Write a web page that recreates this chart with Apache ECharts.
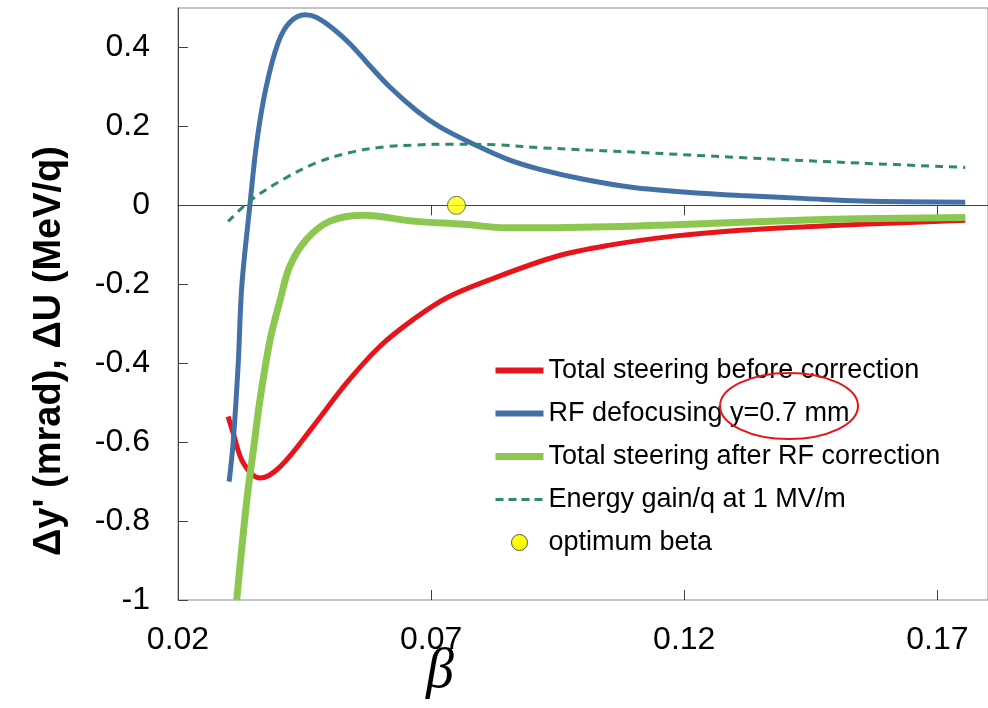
<!DOCTYPE html>
<html>
<head>
<meta charset="utf-8">
<script src="https://cdn.jsdelivr.net/npm/echarts@6/dist/echarts.min.js"></script>
<style>
html,body{margin:0;padding:0;background:#fff;}
#c{width:988px;height:708px;}
</style>
</head>
<body>
<div id="c"></div>
<script>
// ---- data ----
const xTicks = [0.02, 0.07, 0.12, 0.17];

const betaRed = [0.0299,0.0309,0.0329,0.0362,0.0402,0.0467,0.0533,0.0599,0.0665,0.0731,0.0817,0.0948,0.1047,0.1179,0.1311,0.1442,0.1548,0.1755];
const totalBefore = [-0.535,-0.577,-0.653,-0.691,-0.662,-0.560,-0.450,-0.357,-0.289,-0.234,-0.188,-0.129,-0.102,-0.078,-0.063,-0.054,-0.048,-0.038];

const betaBlue = [0.0301,0.0309,0.0319,0.0326,0.0342,0.03555,0.0374,0.0398,0.0421,0.0451,0.0474,0.0507,0.054,0.0573,0.0619,0.0672,0.0718,0.0784,0.085,0.0915,0.1001,0.110,0.1199,0.1311,0.1442,0.1548,0.1755];
const rfDefocus = [-0.70,-0.60,-0.40,-0.205,0.0,0.159,0.299,0.413,0.464,0.483,0.476,0.447,0.409,0.362,0.299,0.239,0.198,0.155,0.117,0.091,0.066,0.045,0.034,0.025,0.017,0.011,0.008];

const betaGreen = [0.0316,0.0336,0.0349,0.0362,0.0382,0.0402,0.0421,0.0454,0.050,0.0566,0.0665,0.0764,0.085,0.1047,0.1245,0.1442,0.1548,0.1755];
const totalAfter = [-1.0,-0.746,-0.619,-0.492,-0.340,-0.239,-0.154,-0.086,-0.040,-0.025,-0.040,-0.048,-0.057,-0.054,-0.046,-0.037,-0.034,-0.031];

const betaGain = [0.0299,0.0342,0.0408,0.0474,0.054,0.0606,0.0672,0.0738,0.0832,0.0915,0.1113,0.1311,0.1548,0.1755];
const energyGain = [-0.041,0.011,0.066,0.108,0.134,0.148,0.153,0.155,0.153,0.146,0.134,0.121,0.107,0.096];

const optBeta = [0.075];
const optValue = [0];

const names = ['Total steering before correction','RF defocusing y=0.7 mm','Total steering after RF correction','Energy gain/q at 1 MV/m','optimum beta'];

function pairs(xs, ys){ return xs.map((x,i)=>[x, ys[i]]); }
function fmt(v){ return String(Math.round(v*100)/100); }

const FONT = "'Liberation Sans', Arial, sans-serif";
const RED = '#e8141b', BLUE = '#4470a8', GREEN = '#8cc850', TEAL = '#2e8b66';
const chart = echarts.init(document.getElementById('c'), null, {renderer:'canvas'});

const baseX = {type:'value', min:0.02, max:0.18, gridIndex:0, splitLine:{show:false}};
const noSym = {opacity:0, color:'transparent', borderWidth:0};

chart.setOption({
  animation:false,
  backgroundColor:'#fff',
  grid:{left:178, top:8, right:-1, bottom:108, show:true, borderColor:'#8c8c8c', borderWidth:1, containLabel:false},
  xAxis:[
    Object.assign({}, baseX, {
      position:'bottom',
      axisLine:{show:false, onZero:false},
      axisTick:{show:false},
      axisLabel:{show:true, customValues:xTicks, formatter:fmt, fontSize:32, color:'#000', fontFamily:FONT, margin:24}
    }),
    Object.assign({}, baseX, {
      position:'bottom',
      axisLine:{show:true, onZero:true, lineStyle:{color:'#404040', width:1}},
      axisTick:{show:true, inside:false, length:10, customValues:xTicks, lineStyle:{color:'#404040', width:1}},
      axisLabel:{show:false}
    }),
    Object.assign({}, baseX, {
      position:'bottom',
      axisLine:{show:false, onZero:true},
      axisTick:{show:true, inside:true, length:10, customValues:xTicks, lineStyle:{color:'#404040', width:1}},
      axisLabel:{show:false}
    })
  ],
  yAxis:{
    type:'value', min:-1, max:0.5, interval:0.2,
    splitLine:{show:false},
    axisLine:{show:true, onZero:false, lineStyle:{color:'#404040', width:1}},
    axisTick:{show:true, inside:true, length:10, lineStyle:{color:'#404040'}},
    axisLabel:{fontSize:32, color:'#000', fontFamily:FONT, margin:28, formatter:fmt, showMaxLabel:false}
  },
  legend:{
    orient:'vertical', left:492, top:357, padding:0,
    itemWidth:48, itemHeight:16, itemGap:16,
    textStyle:{fontSize:27, color:'#000', fontFamily:FONT, lineHeight:26},
    data:[
      {name:names[0], itemStyle:noSym, lineStyle:{color:RED, width:6}},
      {name:names[1], itemStyle:noSym, lineStyle:{color:BLUE, width:6}},
      {name:names[2], itemStyle:noSym, lineStyle:{color:GREEN, width:7}},
      {name:names[3], itemStyle:noSym, lineStyle:{color:TEAL, width:3, type:[8,5]}},
      {name:names[4], icon:'circle', itemStyle:{color:'#ffff00', borderColor:'#505050', borderWidth:1, opacity:1}}
    ]
  },
  series:[
    {name:names[0], type:'line', data:pairs(betaRed,totalBefore), symbol:'none', showSymbol:false, smooth:0.35,
     lineStyle:{color:RED, width:5}, itemStyle:{color:RED}},
    {name:names[1], type:'line', data:pairs(betaBlue,rfDefocus), symbol:'none', showSymbol:false, smooth:0.35,
     lineStyle:{color:BLUE, width:5}, itemStyle:{color:BLUE}},
    {name:names[2], type:'line', data:pairs(betaGreen,totalAfter), symbol:'none', showSymbol:false, smooth:0.35,
     lineStyle:{color:GREEN, width:7}, itemStyle:{color:GREEN}},
    {name:names[3], type:'line', data:pairs(betaGain,energyGain), symbol:'none', showSymbol:false, smooth:0.35,
     lineStyle:{color:TEAL, width:3, type:[8,6]}, itemStyle:{color:TEAL}},
    {name:names[4], type:'scatter', data:pairs(optBeta,optValue), symbol:'circle', symbolSize:18, z:5,
     itemStyle:{color:'#ffff00', borderColor:'#505050', borderWidth:1}}
  ],
  graphic:[
    {type:'text', x:50, y:351, rotation:Math.PI/2,
     style:{text:"\u0394y' (mrad), \u0394U (MeV/q)", font:"bold 38px 'Liberation Sans', Arial, sans-serif", fill:'#000', align:'center', verticalAlign:'middle'}},
    {type:'text', x:440, y:672,
     style:{text:'\u03b2', font:"italic 56px 'Liberation Serif', 'Times New Roman', serif", fill:'#000', align:'center', verticalAlign:'middle'}},
    {type:'ellipse', shape:{cx:789, cy:406, rx:69, ry:33}, z:100,
     style:{fill:null, stroke:RED, lineWidth:2}}
  ]
});
</script>
</body>
</html>
